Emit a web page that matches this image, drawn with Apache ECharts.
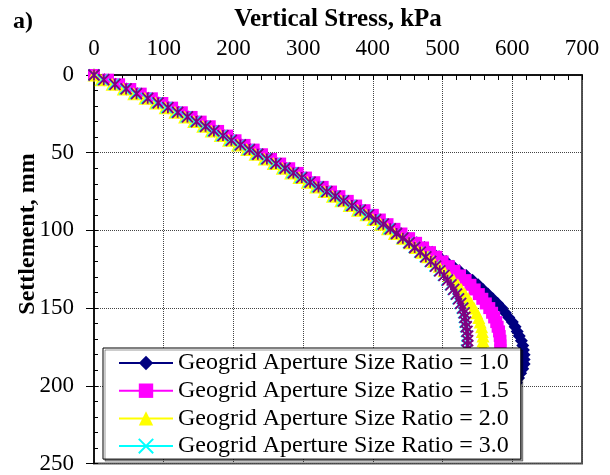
<!DOCTYPE html>
<html><head><meta charset="utf-8">
<script src="https://cdn.jsdelivr.net/npm/echarts@6/dist/echarts.min.js"></script>
<style>html,body{margin:0;padding:0;background:#fff}#c{width:610px;height:475px}</style>
</head><body><div id="c"></div>
<script>
// Settlement (mm) sampled along each curve
const settlement = [0,3,6,9,12,15,18,21,24,27,30,33,36,39,42,45,48,51,54,57,60,63,66,69,72,75,78,81,84,87,90,93,96,99,
  102,105,108,111,114,117,120,123,126,129,132,135,138,141,144,147,150,153,156,159,162,165,168,171,174,177,180,183,186,189,192,195,198,201];

const seriesNames = ['Geogrid Aperture Size Ratio = 1.0','Geogrid Aperture Size Ratio = 1.5','Geogrid Aperture Size Ratio = 2.0','Geogrid Aperture Size Ratio = 3.0'];

// Vertical stress (kPa) at each settlement value
const stressR10 = [0,15,31,47,62,78,93,107,121,135,148,161,173,186,198,211,224,236,249,262,275,287,299,311,323,335,347,359,371,383,395,405,416,426,
  439,451,463,474,485,495,505,515,524,534,543,551,558,565,572,579,585,590,595,600,604,607,610,613,615,616,617,617,617,615,612,609,606,602];
const stressR15 = [0,20,36,52,67,83,98,112,126,140,153,166,178,191,203,216,229,241,254,267,280,292,304,316,328,340,352,364,376,388,400,410,421,431,
  441,452,462,472,482,491,500,509,517,525,533,540,546,552,557,562,567,571,574,577,579,581,582,583,583,583,583,582,580,578,576];
const stressR20 = [0,10,26,42,57,73,88,102,116,130,143,156,168,181,193,206,219,231,244,257,270,282,294,306,318,330,342,354,366,378,390,400,411,421,
  431,442,452,461,470,479,487,495,502,509,516,522,527,532,537,541,545,549,552,554,556,557,558,558,558,558,557,556,555];
const stressR30 = [0,12,28,44,59,75,90,104,118,132,145,158,170,183,195,208,221,233,246,259,272,284,296,308,320,332,344,356,368,380,392,402,413,423,
  433,442,451,459,467,475,482,489,495,501,506,511,515,519,522,525,528,530,531,532,533,534,535,535,535,534,533];
// unlabelled fifth (purple) curve drawn over the 3.0 curve
const stressExtra = [0,14,30,46,61,77,92,106,120,134,147,160,172,185,197,210,223,235,248,261,274,286,298,310,322,334,346,358,370,382,394,404,415,425,
  434,443,452,460,468,476,483,490,496,502,507,512,516,520,523,526,529,531,532,533,534,535,536,536,536,535];

const xTicks = {min:0, max:700, interval:100};
const yTicks = {min:0, max:250, interval:50};

function pairs(stress){ return stress.map((v,i)=>[v, settlement[i]]); }

const FONT = 'Liberation Serif';
const xSym = 'path://M0,0L10,10M10,0L0,10';
const starSym = 'path://M0,0L10,10M10,0L0,10M5,0L5,10';

const chart = echarts.init(document.getElementById('c'), null, {renderer:'canvas'});
chart.setOption({
  animation:false,
  backgroundColor:'#fff',
  title:{text:'a)', left:8, top:5, textStyle:{fontFamily:FONT, fontWeight:'bold', fontSize:24, color:'#000'}},
  grid:{left:94, top:75, right:28, bottom:11, show:true, borderColor:'#555', borderWidth:2, backgroundColor:'transparent'},
  graphic:[{type:'text', x:28, y:234, rotation:Math.PI/2, z:10,
    style:{text:'Settlement, mm', fontFamily:FONT, fontWeight:'bold', fontSize:24, fill:'#000', align:'center', verticalAlign:'middle'}}],
  xAxis:{type:'value', position:'top', min:xTicks.min, max:xTicks.max, interval:xTicks.interval,
    name:'Vertical Stress, kPa', nameLocation:'middle', nameGap:42,
    nameTextStyle:{fontFamily:FONT, fontWeight:'bold', fontSize:25, color:'#000'},
    axisLine:{show:true, lineStyle:{color:'#000', width:1.5}},
    axisTick:{show:true, inside:true, length:5, lineStyle:{color:'#000'}},
    minorTick:{show:true, splitNumber:5, length:5, lineStyle:{color:'#000'}},
    axisLabel:{fontFamily:FONT, fontSize:23, color:'#000', margin:15},
    splitLine:{show:true, lineStyle:{type:'dotted', color:'#444', width:1}}
  },
  yAxis:[{type:'value', inverse:true, min:yTicks.min, max:yTicks.max, interval:yTicks.interval,
    axisLine:{show:true, lineStyle:{color:'#000', width:1.5}},
    axisTick:{show:true, inside:false, length:8, lineStyle:{color:'#000'}},
    axisLabel:{fontFamily:FONT, fontSize:23, color:'#000', margin:20},
    splitLine:{show:true, lineStyle:{type:'dotted', color:'#444', width:1}}
  },{type:'value', inverse:true, min:0, max:250, interval:10, position:'left',
    axisLine:{show:false}, axisLabel:{show:false}, splitLine:{show:false},
    axisTick:{show:true, inside:true, length:4, lineStyle:{color:'#000'}}
  }],
  legend:{orient:'vertical', left:103, top:348, data:seriesNames,
    itemWidth:54, itemHeight:18, itemGap:3.7, padding:[3,12,1,15],
    backgroundColor:'#fff', borderColor:'#000', borderWidth:1,
    shadowColor:'rgba(0,0,0,0.4)', shadowOffsetX:2, shadowOffsetY:2, shadowBlur:0,
    textStyle:{fontFamily:FONT, fontSize:24, color:'#000'}
  },
  series:[
    {name:seriesNames[0], type:'line', data:pairs(stressR10), symbol:'diamond', symbolSize:13,
      itemStyle:{color:'#000080'}, lineStyle:{color:'#000080', width:2.5}},
    {name:seriesNames[1], type:'line', data:pairs(stressR15), symbol:'rect', symbolSize:12,
      itemStyle:{color:'#FF00FF'}, lineStyle:{color:'#FF00FF', width:2.5}},
    {name:seriesNames[2], type:'line', data:pairs(stressR20), symbol:'triangle', symbolSize:13,
      itemStyle:{color:'#FFFF00'}, lineStyle:{color:'#FFFF00', width:2.5}},
    {name:seriesNames[3], type:'line', data:pairs(stressR30), symbol:xSym, symbolSize:11,
      itemStyle:{color:'#00FFFF', borderColor:'#00FFFF', borderWidth:1.5}, lineStyle:{color:'#00FFFF', width:2.5}},
    {name:'extra', type:'line', data:pairs(stressExtra), symbol:starSym, symbolSize:11,
      itemStyle:{color:'#800080', borderColor:'#800080', borderWidth:1.8}, lineStyle:{color:'#800080', width:3.5}}
  ]
});
</script></body></html>
